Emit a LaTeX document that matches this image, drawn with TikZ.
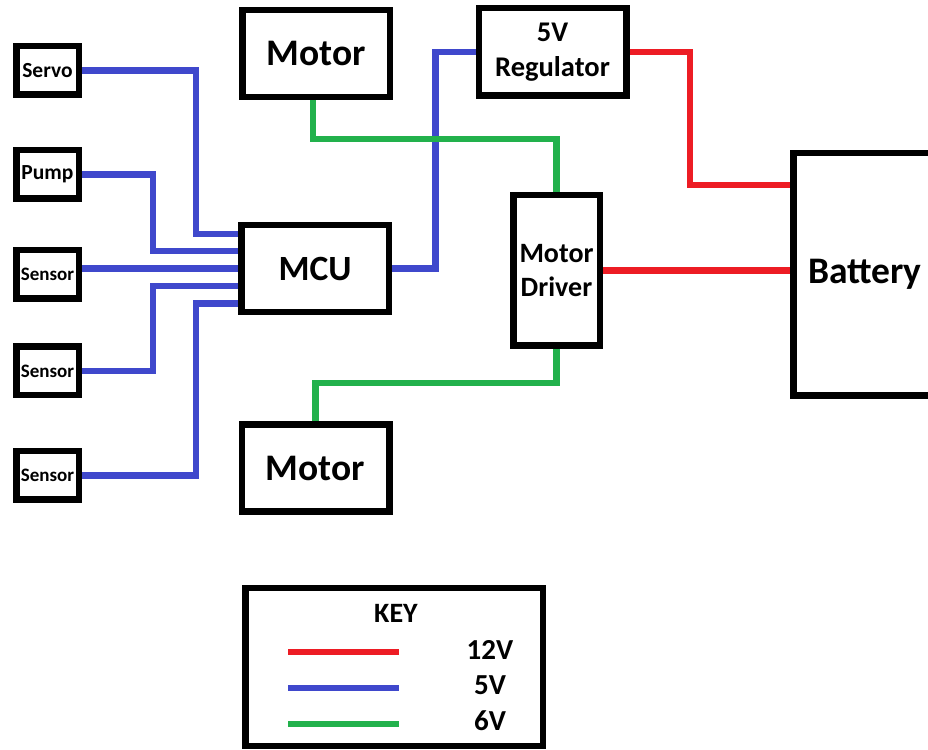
\documentclass[tikz,border=0pt]{standalone}
\usepackage{fontspec}
\setmainfont{Carlito}
\usepackage{xcolor}
\usetikzlibrary{positioning, calc}

\definecolor{wirered}{RGB}{237,28,36}
\definecolor{wireblue}{RGB}{63,72,204}
\definecolor{wiregreen}{RGB}{34,177,76}

\tikzset{
  block/.style={draw=black, line width=6.5pt, inner sep=0pt, align=center,
    minimum width=147.5pt, minimum height=87pt,
    font=\fontsize{37.5}{40}\selectfont\bfseries},
  smallblock/.style={block, minimum width=62.5pt, minimum height=48.5pt,
    font=\fontsize{21.5}{22}\selectfont\bfseries},
  wire12/.style={draw=wirered, line width=6.5pt},
  wire5/.style={draw=wireblue, line width=6.5pt},
  wire6/.style={draw=wiregreen, line width=6.5pt},
  keylabel/.style={inner sep=0pt, anchor=base, font=\fontsize{28}{30}\selectfont\bfseries}
}

\begin{document}
\begin{tikzpicture}[x=1pt, y=1pt]
  \useasboundingbox (0,0) rectangle (928,749);

  % inputs on the left
  \node[smallblock] (servo) at (47.5,678.5) {Servo};
  \node[smallblock] (pump)  at (47.5,574.5) {Pump};
  \node[smallblock, font=\fontsize{19}{20}\selectfont\bfseries] (sensA) at (47.5,474.5) {Sensor};
  \node[smallblock, font=\fontsize{19}{20}\selectfont\bfseries] (sensB) at (47.5,378) {Sensor};
  \node[smallblock, font=\fontsize{19}{20}\selectfont\bfseries] (sensC) at (47.5,273.5) {Sensor};

  % main blocks
  \node[block, font=\fontsize{35.5}{38}\selectfont\bfseries] (mcu) at (315,480.5) {MCU};
  \node[block] (motorA) at (316,695.5) {Motor};
  \node[block] (motorB) at (315.5,281) {Motor};
  \node[block, minimum height=87.5pt, font=\fontsize{28.5}{35}\selectfont\bfseries] (reg) at (552.5,697) {5V\\Regulator};
  \node[block, minimum width=86.5pt, minimum height=150.5pt,
        font=\fontsize{28}{34}\selectfont\bfseries] (driver) at (556.5,478.5) {Motor\\Driver};
  \node[block, minimum width=143.5pt, minimum height=242.5pt] (battery) at (865,474.5) {Battery};

  % 5V wires into the MCU
  \coordinate (colA) at (196,0);
  \coordinate (colB) at (153,0);
  \coordinate (in1) at ($(mcu.west)+(0,34.5)$);
  \coordinate (in2) at ($(mcu.west)+(0,17.5)$);
  \coordinate (in3) at (mcu.west);
  \coordinate (in4) at ($(mcu.west)+(0,-17.5)$);
  \coordinate (in5) at ($(mcu.west)+(0,-35)$);
  \draw[wire5] (servo.east) -| (colA |- in1) -- (in1);
  \draw[wire5] (pump.east) -| (colB |- in2) -- (in2);
  \draw[wire5] (in3 -| sensA.east) -- (in3);
  \draw[wire5] (sensB.east) -| (colB |- in4) -- (in4);
  \draw[wire5] (sensC.east) -| (colA |- in5) -- (in5);
  \draw[wire5] (mcu.east) -| ($(reg.west)+(-40,0)$) -- (reg.west);

  % 6V wires
  \coordinate (drop) at ($(motorA.south)+(-3,0)$);
  \draw[wire6] (drop) |- ($(driver.north)+(0,53)$) -- (driver.north);
  \draw[wire6] (driver.south) -- ++(0,-34) -| (motorB.north);

  % 12V wires
  \draw[wire12] (reg.east) -| ($(battery.west)+(-100,89.5)$) -- ($(battery.west)+(0,89.5)$);
  \draw[wire12] (driver.east) -- (driver.east -| battery.west);

  % key
  \node[block, minimum width=297.5pt, minimum height=157.5pt] (key) at (394,82) {};
  \node[keylabel] (ktitle) at (396,126) {KEY};
  \coordinate (r0) at (288,97);  \coordinate (r1) at (399,97);
  \coordinate (b0) at (288,61);  \coordinate (b1) at (399,61);
  \coordinate (g0) at (288,25);  \coordinate (g1) at (399,25);
  \draw[wire12] (r0) -- (r1);
  \draw[wire5] (b0) -- (b1);
  \draw[wire6] (g0) -- (g1);
  \node[keylabel, font=\fontsize{29}{30}\selectfont\bfseries] (k12) at (490,89) {12V};
  \node[keylabel, font=\fontsize{29}{30}\selectfont\bfseries] (k5) at (490,54) {5V};
  \node[keylabel, font=\fontsize{29}{30}\selectfont\bfseries] (k6) at (490,19) {6V};
\end{tikzpicture}
\end{document}
